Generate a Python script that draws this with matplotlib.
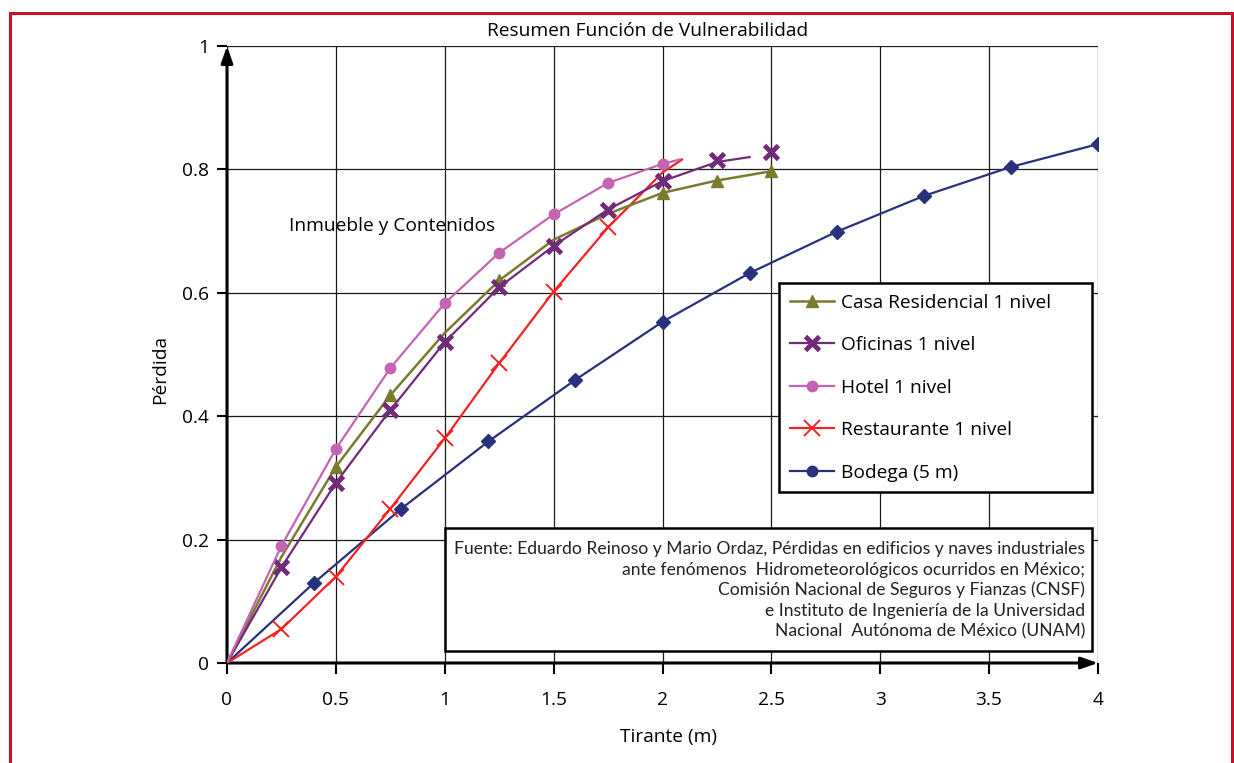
import matplotlib
matplotlib.use("Agg")
import matplotlib.pyplot as plt
from matplotlib.lines import Line2D
from matplotlib.patches import Rectangle

plt.rcParams['font.family'] = ['Open Sans', 'DejaVu Sans']

# curves (Tirante m -> Pérdida)
casa_line_x = [0, 0.25, 0.5, 0.75, 1.0, 1.25, 1.5, 1.75, 2.0, 2.25, 2.5]
casa_line_y = [0, 0.172, 0.318, 0.434, 0.535, 0.620, 0.686, 0.728, 0.762, 0.782, 0.797]
casa_pts_x = [0.5, 0.75, 1.25, 2.0, 2.25, 2.5]
casa_pts_y = [0.318, 0.434, 0.620, 0.762, 0.782, 0.797]

ofi_line_x = [0, 0.25, 0.5, 0.75, 1.0, 1.25, 1.5, 1.75, 2.0, 2.25, 2.4]
ofi_line_y = [0, 0.155, 0.292, 0.410, 0.520, 0.609, 0.676, 0.735, 0.781, 0.812, 0.820]
ofi_pts_x = [0.25, 0.5, 0.75, 1.0, 1.25, 1.5, 1.75, 2.0, 2.25, 2.5]
ofi_pts_y = [0.155, 0.292, 0.410, 0.520, 0.609, 0.676, 0.735, 0.781, 0.816, 0.829]

hotel_line_x = [0, 0.25, 0.5, 0.75, 1.0, 1.25, 1.5, 1.75, 2.0, 2.08]
hotel_line_y = [0, 0.190, 0.347, 0.478, 0.583, 0.665, 0.727, 0.778, 0.809, 0.816]
hotel_pts_x = [0.25, 0.5, 0.75, 1.0, 1.25, 1.5, 1.75, 2.0]
hotel_pts_y = [0.190, 0.347, 0.478, 0.583, 0.665, 0.727, 0.778, 0.809]

rest_line_x = [0, 0.25, 0.5, 0.75, 1.0, 1.25, 1.5, 1.75, 2.0, 2.09]
rest_line_y = [0, 0.055, 0.140, 0.250, 0.364, 0.486, 0.602, 0.706, 0.795, 0.816]
rest_pts_x = [0.25, 0.5, 0.75, 1.0, 1.25, 1.5, 1.75]
rest_pts_y = [0.055, 0.140, 0.250, 0.364, 0.486, 0.602, 0.706]

bod_line_x = [0, 0.4, 0.8, 1.2, 1.6, 2.0, 2.4, 2.8, 3.2, 3.6, 4.0]
bod_line_y = [0, 0.130, 0.250, 0.359, 0.459, 0.553, 0.632, 0.699, 0.757, 0.804, 0.841]
bod_pts_x = bod_line_x[1:]
bod_pts_y = bod_line_y[1:]

x_ticks = [0, 0.5, 1, 1.5, 2, 2.5, 3, 3.5, 4]
x_tick_labels = ['0', '0.5', '1', '1.5', '2', '2.5', '3', '3.5', '4']
y_ticks = [0, 0.2, 0.4, 0.6, 0.8, 1]
y_tick_labels = ['0', '0.2', '0.4', '0.6', '0.8', '1']

fuente = ["Fuente: Eduardo Reinoso y Mario Ordaz, Pérdidas en edificios y naves industriales",
          "ante fenómenos  Hidrometeorológicos ocurridos en México;",
          "Comisión Nacional de Seguros y Fianzas (CNSF)",
          "e Instituto de Ingeniería de la Universidad",
          "Nacional  Autónoma de México (UNAM)"]

OLIVE = '#7b7b2e'
PURPLE = '#722a7a'
PINK = '#c464b2'
RED = '#f52222'
NAVY = '#29307c'
FS = 13.8

fig = plt.figure(figsize=(12.34, 7.63), dpi=100)
ax = fig.add_axes([227 / 1234, 100 / 763, 871 / 1234, 617 / 763])
ax.set_xlim(0, 4)
ax.set_ylim(0, 1)

# red page frame
fig.patches.append(Rectangle((10 / 1234, -0.05), 1222 / 1234, 1.05 - 13 / 763, transform=fig.transFigure,
                             fill=False, edgecolor='#c8102e', lw=2.2))

for s in ax.spines.values():
    s.set_visible(False)
ax.set_xticks(x_ticks)
ax.set_xticklabels(x_tick_labels)
ax.set_yticks(y_ticks)
ax.set_yticklabels(y_tick_labels)
ax.tick_params(axis='x', length=8, width=1.5, pad=12, labelsize=FS)
ax.tick_params(axis='y', length=7, width=1.5, pad=6, labelsize=FS)
ax.grid(True, color='#1a1a1a', lw=0.9)
ax.set_axisbelow(True)

# axis arrows
ax.annotate('', xy=(0, 1), xytext=(0, 0), annotation_clip=False,
            arrowprops=dict(arrowstyle='-|>,head_length=1.0,head_width=0.35', color='black', lw=2.2,
                            shrinkA=0, shrinkB=0))
ax.annotate('', xy=(4, 0), xytext=(0, 0), annotation_clip=False,
            arrowprops=dict(arrowstyle='-|>,head_length=1.0,head_width=0.35', color='black', lw=2.2,
                            shrinkA=0, shrinkB=0))

ax.plot(bod_line_x, bod_line_y, color=NAVY, lw=1.6, zorder=3)
ax.plot(bod_pts_x, bod_pts_y, ls='none', marker='D', ms=7, color=NAVY, zorder=3)
ax.plot(rest_line_x, rest_line_y, color=RED, lw=1.6, zorder=3)
ax.plot(rest_pts_x, rest_pts_y, ls='none', marker='x', ms=12, mew=1.4, color=RED, zorder=3)
ax.plot(casa_line_x, casa_line_y, color=OLIVE, lw=1.8, zorder=3)
ax.plot(casa_pts_x, casa_pts_y, ls='none', marker='^', ms=9, color=OLIVE, zorder=3)
ax.plot(ofi_line_x, ofi_line_y, color=PURPLE, lw=1.6, zorder=4)
ax.plot(ofi_pts_x, ofi_pts_y, ls='none', marker='x', ms=10, mew=3.5, color=PURPLE, zorder=4)
ax.plot(hotel_line_x, hotel_line_y, color=PINK, lw=1.6, zorder=4)
ax.plot(hotel_pts_x, hotel_pts_y, ls='none', marker='o', ms=7.5, color=PINK, zorder=4)

handles = [
    Line2D([], [], color=OLIVE, lw=1.8, marker='^', ms=9),
    Line2D([], [], color=PURPLE, lw=1.6, marker='x', ms=10, mew=3.5),
    Line2D([], [], color=PINK, lw=1.6, marker='o', ms=7.5),
    Line2D([], [], color=RED, lw=1.6, marker='x', ms=12, mew=1.4),
    Line2D([], [], color=NAVY, lw=1.6, marker='o', ms=7.5),
]
labels = ['Casa Residencial 1 nivel', 'Oficinas 1 nivel', 'Hotel 1 nivel', 'Restaurante 1 nivel', 'Bodega (5 m)']
leg = ax.legend(handles, labels, loc='upper left', bbox_to_anchor=(0.6338, 0.282, 0.3593, 0.3339),
                mode='expand', borderaxespad=0,
                fancybox=False, framealpha=1, edgecolor='black', fontsize=FS, labelspacing=1.28,
                handlelength=2.3, handletextpad=0.4, borderpad=0.55)
leg.get_frame().set_linewidth(1.8)
leg.set_zorder(6)

ax.add_patch(Rectangle((0.2503, 0.0194), 0.9931 - 0.2503, 0.2188 - 0.0194, transform=ax.transAxes,
                       facecolor='white', edgecolor='black', lw=1.8, zorder=6))
for i, line in enumerate(fuente):
    ax.text(0.985, 0.185 - i * 0.0335, line, transform=ax.transAxes, ha='right', va='center',
            fontsize=12.6, family=['Lato', 'DejaVu Sans'], color='#222222', zorder=7)

ax.text(0.071, 0.708, 'Inmueble y Contenidos', transform=ax.transAxes, ha='left', va='center', fontsize=FS)
fig.text(648 / 1234, 1 - 31 / 763, 'Resumen Función de Vulnerabilidad', ha='center', va='center', fontsize=FS)
fig.text(160 / 1234, 1 - 370 / 763, 'Pérdida', ha='center', va='center', rotation=90, fontsize=FS)
fig.text(668 / 1234, 1 - 737 / 763, 'Tirante (m)', ha='center', va='center', fontsize=FS)

fig.savefig('out.png', dpi=100)
